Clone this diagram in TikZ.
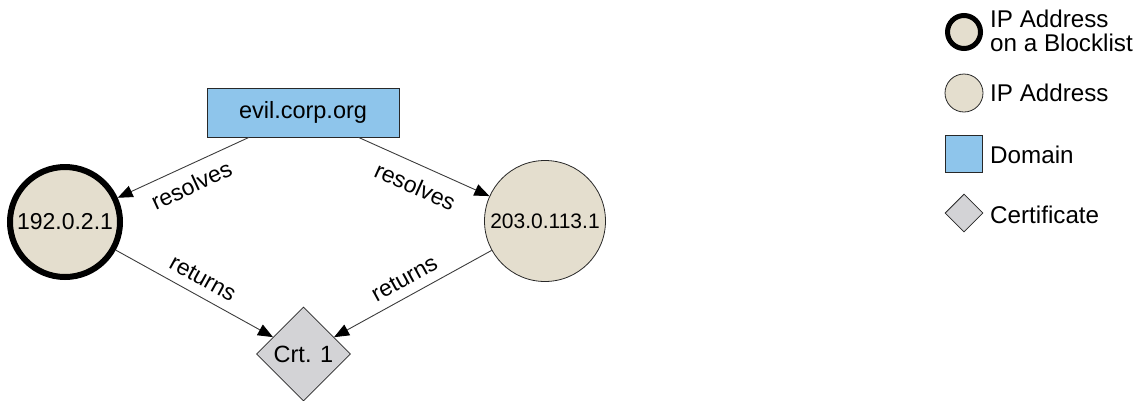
\documentclass[tikz,border=0pt]{standalone}
\usepackage{fontspec}
\setmainfont{Liberation Sans}
\usetikzlibrary{shapes.geometric,arrows.meta}
\definecolor{ipfill}{RGB}{228,222,206}
\definecolor{domfill}{RGB}{142,197,235}
\definecolor{crtfill}{RGB}{211,211,214}
\definecolor{edgecol}{RGB}{60,60,60}
\definecolor{bordercol}{RGB}{40,40,40}

\begin{document}
\begin{tikzpicture}[x=1pt,y=-1pt,
  font=\fontsize{23.5}{26}\selectfont,
  ipnode/.style={circle, draw=black, fill=ipfill, inner sep=0pt},
  blocked/.style={ipnode, line width=6pt, minimum size=110pt},
  plainip/.style={ipnode, draw=bordercol, line width=0.8pt, minimum size=121pt},
  domnode/.style={rectangle, draw=bordercol, fill=domfill, line width=0.8pt},
  crtnode/.style={diamond, aspect=1, draw=bordercol, fill=crtfill, line width=0.8pt, inner sep=0pt},
  link/.style={draw=edgecol, line width=0.9pt, -{Triangle[length=15pt,width=12pt,color=black]}},
  elabel/.style={sloped, inner sep=2pt, pos=0.5, font=\fontsize{23}{26}\selectfont},
  legtext/.style={anchor=west, inner sep=0pt, align=left, font=\fontsize{24.2}{24}\selectfont}
]
\useasboundingbox (0,0) rectangle (1137,400);

% graph nodes
\node[domnode, minimum width=192pt, minimum height=49pt] (dom) at (303,112.5) {evil.corp.org};
\node[blocked] (ipa) at (65,222) {\fontsize{23}{26}\selectfont 192.0.2.1};
\node[plainip] (ipb) at (545,221) {\fontsize{21}{24}\selectfont 203.0.113.1};
\node[crtnode, minimum size=94pt] (crt) at (303.5,354) {Crt. 1};

% relations
\draw[link] (dom) -- node[elabel, below=8.5pt] {resolves} (ipa);
\draw[link] (dom) -- node[elabel, below=10.5pt] {resolves} (ipb);
\draw[link] (ipa) -- node[elabel, above=7.5pt] {returns} (crt);
\draw[link] (ipb) -- node[elabel, above=7.5pt] {returns} (crt);

% legend
\node[ipnode, line width=5pt, minimum size=33pt] (lgblock) at (964,32) {};
\node[ipnode, draw=bordercol, line width=0.8pt, minimum size=38pt] (lgip) at (964,93) {};
\node[domnode, minimum size=37pt] (lgdom) at (964,153.5) {};
\node[crtnode, minimum size=38pt] (lgcrt) at (964,213) {};

\node[legtext] (lgblocktxt) at (990,31) {IP Address\\on a Blocklist};
\node[legtext] (lgiptxt) at (990,93) {IP Address};
\node[legtext] (lgdomtxt) at (990,155) {Domain};
\node[legtext] (lgcrttxt) at (990,215) {Certificate};
\end{tikzpicture}
\end{document}
